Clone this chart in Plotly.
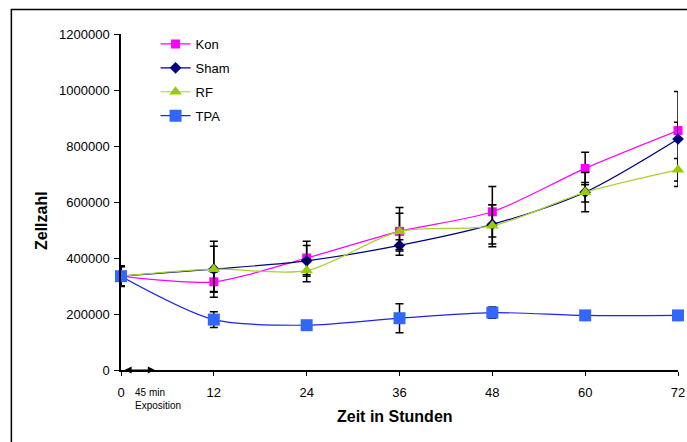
import plotly.graph_objects as go

hours = [0, 12, 24, 36, 48, 60, 72]
kon = [335000, 315000, 400000, 495000, 565000, 720000, 855000]
kon_err = [35000, 35000, 60000, 85000, 90000, 58000, 30000]
sham = [335000, 360000, 390000, 445000, 520000, 635000, 825000]
sham_err = [35000, 100000, 55000, 20000, 70000, 35000, 170000]
rf = [335000, 360000, 355000, 495000, 515000, 635000, 715000]
rf_err = [35000, 82000, 40000, 65000, 75000, 70000, 40000]
tpa = [335000, 180000, 160000, 185000, 205000, 195000, 195000]
tpa_err = [37000, 28000, 8000, 52000, 20000, 8000, 8000]

series = [
    ("Kon", kon, kon_err, "#FF00FF", "#FF00FF", "square", 9),
    ("Sham", sham, sham_err, "#000080", "#000080", "diamond", 9),
    ("RF", rf, rf_err, "#A8D030", "#99CC00", "triangle-up", 11),
    ("TPA", tpa, tpa_err, "#2020F0", "#3366FF", "square", 12),
]

fig = go.Figure()
for i, (name, vals, err, lc, mc, sym, ms) in enumerate(series):
    fig.add_trace(go.Scatter(
        x=hours, y=vals, name=name, mode="lines+markers",
        line=dict(color=lc, width=1.2, shape="spline", smoothing=0.8),
        marker=dict(color=mc, symbol=sym, size=ms),
        error_y=dict(type="data", array=err, color="black", thickness=1.5, width=4),
        cliponaxis=False, legendgroup=name,
    ))

L, T, B = 121, 34, 72
W, H = 687, 442
pw = 564
ph = H - T - B

def px(xpix):
    return (xpix - L) / pw

def py(ypix):
    return (370 - ypix) / ph

fig.update_layout(
    width=W, height=H,
    margin=dict(l=L, r=W - L - pw, t=T, b=B),
    paper_bgcolor="white", plot_bgcolor="white",
    font=dict(family="Liberation Sans, Arial, sans-serif", size=13, color="black"),
    showlegend=True,
    legend=dict(x=px(156), y=py(29), xanchor="left", yanchor="top",
                bgcolor="rgba(0,0,0,0)", font=dict(size=13), tracegroupgap=4),
    xaxis=dict(range=[0, 72], tickvals=hours, showgrid=False, zeroline=False,
               showline=True, linecolor="black", linewidth=1.5,
               ticks="outside", ticklen=4, tickcolor="black", ticklabelstandoff=6,
               ticklabeloverflow="allow", tickfont=dict(size=13)),
    yaxis=dict(range=[0, 1200000], dtick=200000, tickformat="d", showgrid=False,
               zeroline=False, showline=True, linecolor="black", linewidth=1.5,
               ticks="outside", ticklen=5, tickcolor="black", ticklabelstandoff=2,
               tickfont=dict(size=13)),
)

fig.add_shape(type="rect", xref="paper", yref="paper",
              x0=px(10), y0=py(460), x1=px(720), y1=py(9.5),
              line=dict(color="black", width=1.5), fillcolor="rgba(0,0,0,0)", layer="below")

fig.add_annotation(x=4.4, y=0, ax=0.25, ay=0, xref="x", yref="y", axref="x", ayref="y",
                   text="", showarrow=True, arrowhead=2, arrowside="end+start",
                   arrowsize=1.2, arrowwidth=1.2, arrowcolor="black")
fig.add_annotation(x=px(133), y=py(399), xref="paper", yref="paper", xanchor="left",
                   yanchor="middle", text="45 min<br>Exposition", showarrow=False,
                   align="left", font=dict(size=10))
fig.add_annotation(x=px(40), y=py(221), xref="paper", yref="paper", text="<b>Zellzahl</b>",
                   xanchor="center", yanchor="middle",
                   textangle=-90, showarrow=False, font=dict(size=16))
fig.add_annotation(x=px(398), y=py(416), xref="paper", yref="paper",
                   xanchor="center", yanchor="middle",
                   text="<b>Zeit in Stunden</b>", showarrow=False, font=dict(size=16))

fig.write_html("out.html")
